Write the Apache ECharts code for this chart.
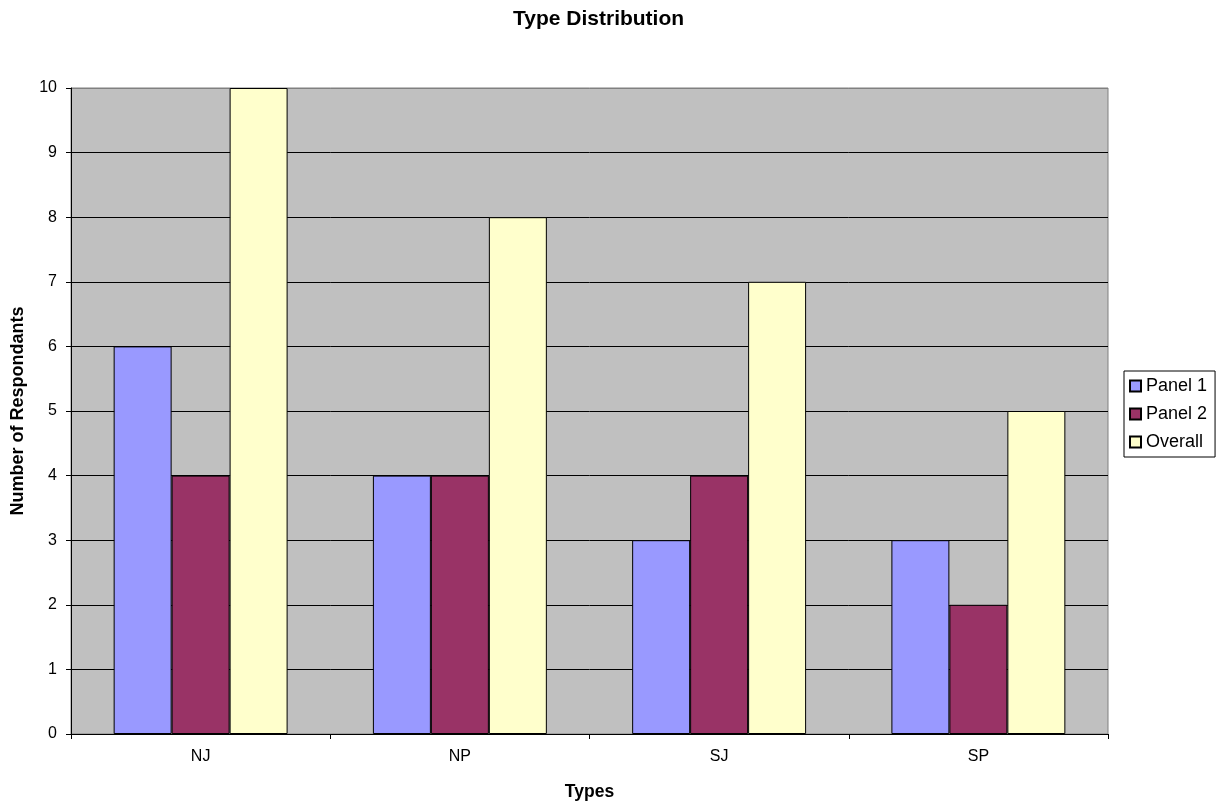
<!DOCTYPE html>
<html>
<head>
<meta charset="utf-8">
<script src="https://cdn.jsdelivr.net/npm/echarts@6/dist/echarts.min.js"></script>
<style>
html,body{margin:0;padding:0;background:#fff;}
#chart{width:1217px;height:806px;}
</style>
</head>
<body>
<div id="chart"></div>
<script>
const categories = ['NJ', 'NP', 'SJ', 'SP'];
const panel1 = [6, 4, 3, 3];
const panel2 = [4, 4, 4, 2];
const overall = [10, 8, 7, 5];
const yTicks = { min: 0, max: 10, interval: 1 };

const FONT = 'Liberation Sans, Arial, sans-serif';
const chart = echarts.init(document.getElementById('chart'), null, { renderer: 'canvas' });

const splitColors = [];
for (let i = yTicks.min; i <= yTicks.max; i += yTicks.interval) {
  splitColors.push(i === yTicks.max ? '#808080' : '#000000');
}

const barStyle = (c) => ({ color: c, borderColor: '#000', borderWidth: 1 });

chart.setOption({
  animation: false,
  backgroundColor: '#ffffff',
  textStyle: { fontFamily: FONT },
  title: {
    text: 'Type Distribution',
    left: 513,
    top: 9,
    padding: 0,
    textStyle: { fontFamily: FONT, fontSize: 21, fontWeight: 'bold', color: '#000' }
  },
  legend: {
    orient: 'vertical',
    left: 1124,
    top: 371,
    padding: [6, 8, 6, 5],
    itemWidth: 11,
    itemHeight: 11,
    itemGap: 10,
    backgroundColor: '#fff',
    borderColor: '#000',
    borderWidth: 1,
    borderRadius: 0,
    icon: 'rect',
    textStyle: { fontFamily: FONT, fontSize: 18, color: '#000' },
    data: ['Panel 1', 'Panel 2', 'Overall']
  },
  grid: {
    left: 71, right: 109, top: 88, bottom: 70,
    show: true,
    backgroundColor: '#C0C0C0',
    borderColor: '#808080',
    borderWidth: 1
  },
  xAxis: {
    type: 'category',
    data: categories,
    name: 'Types',
    nameLocation: 'middle',
    nameGap: 49,
    nameTextStyle: { fontFamily: FONT, fontSize: 17.5, fontWeight: 'bold', color: '#000' },
    axisLine: { lineStyle: { color: '#000', width: 1 } },
    axisTick: { show: true, length: 5, lineStyle: { color: '#000' } },
    axisLabel: { fontFamily: FONT, fontSize: 16, color: '#000', margin: 15 },
    splitLine: { show: false }
  },
  yAxis: {
    type: 'value',
    min: yTicks.min,
    max: yTicks.max,
    interval: yTicks.interval,
    name: 'Number of Respondants',
    nameLocation: 'middle',
    nameRotate: 90,
    nameGap: 44,
    nameTextStyle: { fontFamily: FONT, fontSize: 18, fontWeight: 'bold', color: '#000' },
    axisLine: { show: true, lineStyle: { color: '#000', width: 1 } },
    axisTick: { show: true, length: 5, lineStyle: { color: '#000' } },
    axisLabel: { fontFamily: FONT, fontSize: 16, color: '#000', margin: 14 },
    splitLine: { show: true, lineStyle: { color: splitColors, width: 1 } }
  },
  series: [
    { name: 'Panel 1', type: 'bar', data: panel1, barGap: '0%', barCategoryGap: '32.9%', itemStyle: barStyle('#9999FF') },
    { name: 'Panel 2', type: 'bar', data: panel2, barGap: '0%', barCategoryGap: '32.9%', itemStyle: barStyle('#993366') },
    { name: 'Overall', type: 'bar', data: overall, barGap: '0%', barCategoryGap: '32.9%', itemStyle: barStyle('#FFFFCC') }
  ]
});
</script>
</body>
</html>
